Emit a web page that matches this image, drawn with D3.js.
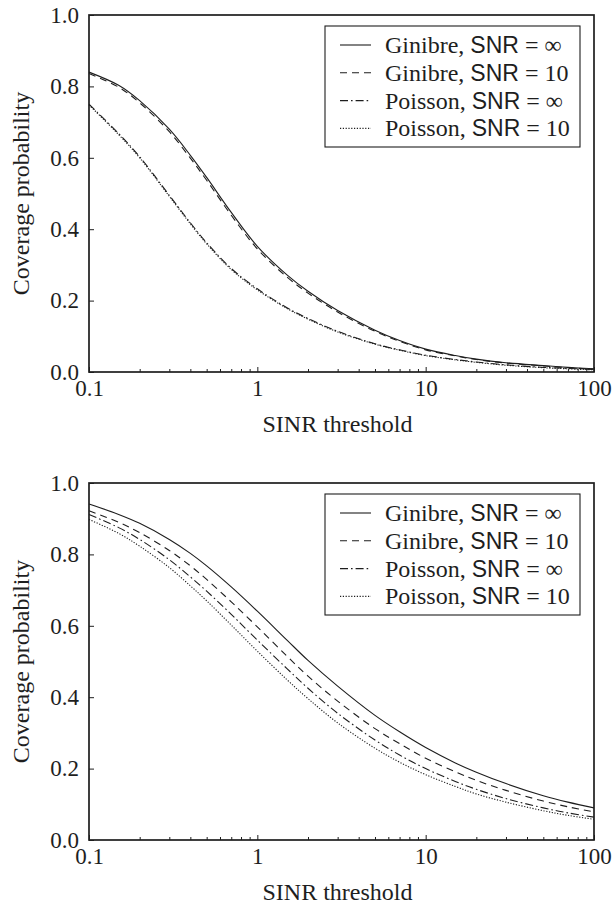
<!DOCTYPE html>
<html><head><meta charset="utf-8">
<script src="https://cdn.jsdelivr.net/npm/d3@7"></script>
<style>
body{margin:0;background:#fff}
svg{display:block}
.serif{font-family:"Liberation Serif","Times New Roman","DejaVu Serif",serif}
.sans{font-family:"Liberation Sans",Arial,"DejaVu Sans",sans-serif}
</style>
</head><body><svg id="c" width="613" height="904"></svg>
<script>
// ---------- data ----------
const sinr = [0.1, 0.15, 0.2, 0.3, 0.4, 0.5, 0.7, 1, 1.5, 2, 3, 5, 7, 10, 15, 20, 30, 50, 70, 100];

// top panel
const topGinibreInf = [0.840, 0.803, 0.760, 0.680, 0.607, 0.545, 0.447, 0.352, 0.272, 0.226, 0.172, 0.117, 0.088, 0.064, 0.046, 0.036, 0.026, 0.018, 0.013, 0.009];
const topGinibre10  = [0.836, 0.798, 0.754, 0.673, 0.599, 0.537, 0.439, 0.345, 0.266, 0.221, 0.168, 0.114, 0.086, 0.062, 0.045, 0.035, 0.025, 0.017, 0.012, 0.008];
const topPoissonInf = [0.750, 0.668, 0.603, 0.495, 0.418, 0.362, 0.290, 0.233, 0.180, 0.150, 0.114, 0.079, 0.062, 0.047, 0.035, 0.028, 0.020, 0.013, 0.010, 0.007];
const topPoisson10  = [0.748, 0.665, 0.600, 0.492, 0.415, 0.359, 0.287, 0.230, 0.178, 0.148, 0.112, 0.078, 0.061, 0.046, 0.034, 0.027, 0.019, 0.012, 0.009, 0.006];

// bottom panel
const botGinibreInf = [0.941, 0.912, 0.887, 0.842, 0.803, 0.768, 0.709, 0.641, 0.560, 0.503, 0.431, 0.349, 0.303, 0.259, 0.216, 0.190, 0.158, 0.124, 0.106, 0.090];
const botGinibre10  = [0.922, 0.890, 0.861, 0.811, 0.768, 0.730, 0.667, 0.597, 0.515, 0.459, 0.389, 0.312, 0.270, 0.229, 0.191, 0.167, 0.139, 0.109, 0.093, 0.079];
const botPoissonInf = [0.912, 0.875, 0.842, 0.785, 0.737, 0.697, 0.632, 0.560, 0.480, 0.425, 0.355, 0.280, 0.238, 0.200, 0.164, 0.142, 0.116, 0.090, 0.076, 0.064];
const botPoisson10  = [0.898, 0.859, 0.823, 0.763, 0.712, 0.670, 0.602, 0.529, 0.449, 0.396, 0.328, 0.257, 0.218, 0.183, 0.150, 0.129, 0.106, 0.082, 0.069, 0.058];

const legendModel = ["Ginibre, ", "Ginibre, ", "Poisson, ", "Poisson, "];
const legendSnr   = ["∞", "10", "∞", "10"];
const xTickValues = [0.1, 1, 10, 100];
const xTickLabels = ["0.1", "1", "10", "100"];
const yTickValues = [0, 0.2, 0.4, 0.6, 0.8, 1.0];
const yTickLabels = ["0.0", "0.2", "0.4", "0.6", "0.8", "1.0"];
const xTitle = "SINR threshold";
const yTitle = "Coverage probability";

// ---------- drawing ----------
const ink = "#1e1e1e";
const dashes = [null, "7,5", "8,3,1.6,3", "1.2,1.6"];
const svg = d3.select("#c");

const minorTicks = [];
[0.1, 1, 10].forEach(d => { for (let k = 2; k <= 9; k++) minorTicks.push(+(d * k).toPrecision(3)); });

function panel(top, series) {
  const left = 89, right = 594, bottom = top + 357;
  const x = d3.scaleLog().domain([0.1, 100]).range([left, right]);
  const y = d3.scaleLinear().domain([0, 1]).range([bottom, top]);
  const g = svg.append("g");

  // curves
  const line = d3.line().x((d, i) => x(sinr[i])).y(d => y(d)).curve(d3.curveCatmullRom.alpha(0.5));
  series.forEach((s, k) => {
    g.append("path").attr("d", line(s)).attr("fill", "none")
      .attr("stroke", ink).attr("stroke-width", 1.1)
      .attr("stroke-dasharray", dashes[k]);
  });

  // x axis major
  const xa = g.append("g").attr("transform", `translate(0,${bottom})`)
    .call(d3.axisBottom(x).tickValues(xTickValues).tickFormat((d, i) => xTickLabels[i])
      .tickSizeInner(-5).tickSizeOuter(0).tickPadding(8));
  // x axis minor
  const xm = g.append("g").attr("transform", `translate(0,${bottom})`)
    .call(d3.axisBottom(x).tickValues(minorTicks).tickFormat("").tickSizeInner(-3).tickSizeOuter(0));
  // y axis
  const ya = g.append("g").attr("transform", `translate(${left},0)`)
    .call(d3.axisLeft(y).tickValues(yTickValues).tickFormat((d, i) => yTickLabels[i])
      .tickSizeInner(-5).tickSizeOuter(0).tickPadding(10));
  [xa, xm, ya].forEach(a => {
    a.attr("font-family", null).attr("font-size", null);
    a.select(".domain").remove();
    a.selectAll("line").attr("stroke", ink).attr("stroke-width", 1);
    a.selectAll("text").attr("class", "serif").style("font-size", "23px").attr("fill", ink);
  });

  // frame
  g.append("rect").attr("x", left).attr("y", top).attr("width", right - left).attr("height", bottom - top)
    .attr("fill", "none").attr("stroke", ink).attr("stroke-width", 1.7);

  // titles
  g.append("text").attr("class", "serif").attr("x", (left + right) / 2 - 4).attr("y", bottom + 60)
    .attr("text-anchor", "middle").style("font-size", "24px").attr("fill", ink)
    .text(xTitle);
  g.append("text").attr("class", "serif").attr("transform", `translate(29,${(top + bottom) / 2}) rotate(-90)`)
    .attr("text-anchor", "middle").style("font-size", "24px").attr("fill", ink)
    .text(yTitle);

  // legend
  const lg = g.append("g");
  lg.append("rect").attr("x", 325).attr("y", top + 11).attr("width", 255).attr("height", 121)
    .attr("fill", "#fff").attr("stroke", ink).attr("stroke-width", 1.1);
  legendModel.forEach((m, k) => {
    const cy = top + 30 + k * 27.8;
    lg.append("line").attr("x1", 340).attr("x2", 371).attr("y1", cy).attr("y2", cy)
      .attr("stroke", ink).attr("stroke-width", 1.1).attr("stroke-dasharray", dashes[k]);
    const t = lg.append("text").attr("x", 385).attr("y", cy + 8).attr("fill", ink).style("font-size", "24px");
    t.append("tspan").attr("class", "serif").text(m);
    t.append("tspan").attr("class", "sans").style("font-size", "23px").text("SNR");
    t.append("tspan").attr("class", "serif").text(" = " + legendSnr[k]);
  });
}

panel(15, [topGinibreInf, topGinibre10, topPoissonInf, topPoisson10]);
panel(483, [botGinibreInf, botGinibre10, botPoissonInf, botPoisson10]);
</script></body></html>
